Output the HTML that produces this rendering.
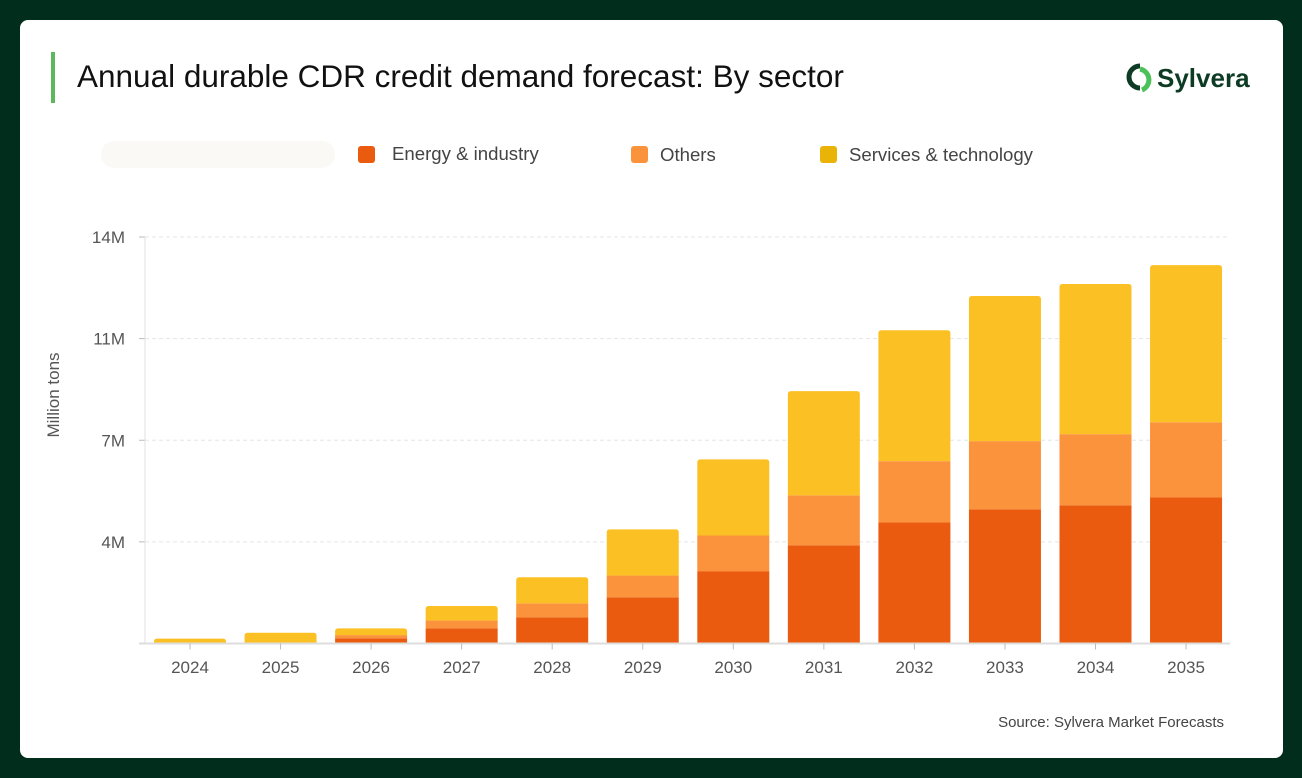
<!DOCTYPE html>
<html><head><meta charset="utf-8">
<style>
body{margin:0;width:1302px;height:778px;background:#012d1d;font-family:"Liberation Sans",sans-serif;overflow:hidden}
#card{position:absolute;left:20px;top:20px;width:1263px;height:738px;background:#fff;border-radius:8px}
</style></head><body>
<div id="card">
<svg width="1263" height="738" viewBox="20 20 1263 738" style="position:absolute;left:0;top:0">
<rect x="51" y="52" width="4" height="51" fill="#5cb85c"/>
<text x="77" y="87" font-size="31.5" fill="#111">Annual durable CDR credit demand forecast: By sector</text>
<g>
<path d="M1140 66 A11 11 0 1 0 1140 88" fill="none" stroke="#0d3b24" stroke-width="5"/>
<path d="M1136 71 A11 11 0 0 1 1138 92" fill="none" stroke="#4cc15a" stroke-width="5" transform="translate(4,-2)"/>
<text x="1157" y="87" font-size="26" font-weight="bold" fill="#0d3b24">Sylvera</text>
</g>
<rect x="101" y="141" width="234" height="27" rx="13" fill="#faf9f6"/>
<g>
<rect x="358" y="146" width="17" height="17" rx="3" fill="#ea5a0f"/>
<text x="392" y="160" font-size="18.6" fill="#444">Energy &amp; industry</text>
<rect x="631" y="146" width="17" height="17" rx="3" fill="#fb923c"/>
<text x="660" y="161" font-size="18.6" fill="#444">Others</text>
<rect x="820" y="146" width="17" height="17" rx="3" fill="#eab308"/>
<text x="849" y="161" font-size="18.6" fill="#444">Services &amp; technology</text>
</g>
<g id="grid"></g><g id="bars"></g><g id="axes"></g>
<text transform="translate(59,395) rotate(-90)" text-anchor="middle" font-size="17" fill="#555">Million tons</text>
<text x="1224" y="727" text-anchor="end" font-size="15" fill="#444">Source: Sylvera Market Forecasts</text>
</svg>
</div>
<script>
const years=["2024","2025","2026","2027","2028","2029","2030","2031","2032","2033","2034","2035"];
const energy=[0,0,0.18,0.52,0.90,1.59,2.48,3.38,4.17,4.62,4.76,5.03];
const others=[0,0,0.11,0.27,0.48,0.75,1.24,1.72,2.11,2.35,2.45,2.59];
const services=[0.17,0.37,0.23,0.50,0.90,1.59,2.62,3.59,4.51,5.00,5.17,5.41];
const tickVals=[0,3.5,7,10.5,14];
const tickLabels=["","4M","7M","11M","14M"];
const NS="http://www.w3.org/2000/svg";
const y0=643.5,yTop=237,vmax=14,x0=145,step=90.55,bw=72;
const y=v=>y0-(v/vmax)*(y0-yTop);
const xc=i=>x0+45+i*step;
function mk(t,a,p){const e=document.createElementNS(NS,t);for(const k in a)e.setAttribute(k,a[k]);p.appendChild(e);return e;}
const grid=document.getElementById('grid'),bars=document.getElementById('bars'),axes=document.getElementById('axes');
tickVals.forEach((v,i)=>{
 if(i>0){const l=mk('line',{x1:x0,x2:1230,y1:y(v),y2:y(v),stroke:'#e5e5e5','stroke-dasharray':'4 3'},grid);
 
 }
 const tk=mk('line',{x1:x0-6,x2:x0,y1:y(v),y2:y(v),stroke:'#bbb'},axes);
 
 
 const t=mk('text',{x:x0-20,y:y(v)+6,'text-anchor':'end','font-size':17,fill:'#555'},axes);t.textContent=tickLabels[i];
 
 
});
const ax=mk('line',{x1:x0,x2:x0,y1:yTop,y2:y0,stroke:'#e2e2e2'},axes);


const bx=mk('line',{x1:x0-6,x2:1230,y1:y0,y2:y0,stroke:'#ddd','stroke-width':2},axes);


const cols=["#ea5a0f","#fb923c","#fbc124"];
years.forEach((yr,i)=>{
 const vals=[energy[i],others[i],services[i]];let acc=0;
 const tot=vals.reduce((a,b)=>a+b,0);
 vals.forEach((v,s)=>{
  if(v<=0)return;
  const top=y(acc+v),bot=y(acc);acc+=v;
  const x=xc(i)-bw/2,h=bot-top;
  let el;
  if(Math.abs(acc-tot)<1e-9){const r=Math.min(3,h);
   el=mk('path',{d:`M${x} ${bot}V${top+r}Q${x} ${top} ${x+r} ${top}H${x+bw-r}Q${x+bw} ${top} ${x+bw} ${top+r}V${bot}Z`,fill:cols[s]},bars);}
  else el=mk('rect',{x:x,y:top,width:bw,height:h,fill:cols[s]},bars);
  
  
 });
 const tk=mk('line',{x1:xc(i),x2:xc(i),y1:y0,y2:y0+6,stroke:'#bbb'},axes);
 
 
 const t=mk('text',{x:xc(i),y:673,'text-anchor':'middle','font-size':17,fill:'#555'},axes);t.textContent=yr;
 
 
});
</script>
</body></html>
